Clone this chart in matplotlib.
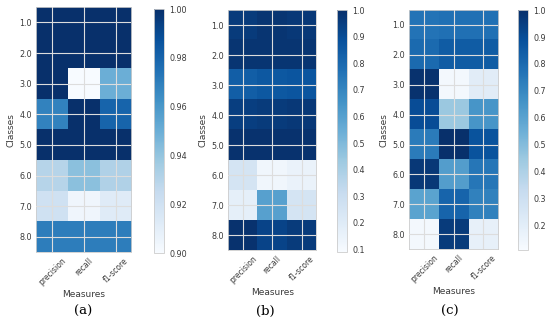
import numpy as np
import matplotlib
matplotlib.use("Agg")
import matplotlib.pyplot as plt
from matplotlib.ticker import FormatStrFormatter

# datos
measures = ["precision", "recall", "f1-score"]
classes = [1, 2, 3, 4, 5, 6, 7, 8]

scores_a = [
    [1.00, 1.00, 1.00],
    [1.00, 1.00, 1.00],
    [1.00, 0.900, 0.950],
    [0.968, 1.00, 0.980],
    [1.00, 1.00, 1.00],
    [0.930, 0.942, 0.932],
    [0.920, 0.904, 0.912],
    [0.970, 0.970, 0.970],
]
scores_b = [
    [0.96, 0.98, 0.97],
    [0.98, 0.98, 0.98],
    [0.84, 0.86, 0.87],
    [0.95, 0.96, 0.97],
    [0.99, 0.99, 0.99],
    [0.25, 0.12, 0.15],
    [0.17, 0.60, 0.25],
    [0.99, 0.93, 0.96],
]
scores_c = [
    [0.77, 0.78, 0.78],
    [0.80, 0.85, 0.85],
    [0.99, 0.13, 0.21],
    [0.90, 0.45, 0.65],
    [0.74, 1.00, 0.88],
    [0.97, 0.62, 0.76],
    [0.60, 0.82, 0.72],
    [0.13, 0.96, 0.18],
]

panels = [
    # datos, vmin, vmax, ticks cbar, formato, ejes, cbar, etiqueta, x etiqueta
    (scores_a, 0.90, 1.00, np.arange(0.90, 1.001, 0.02), "%.2f",
     [0.066, 0.222, 0.173, 0.756], [0.280, 0.219, 0.018, 0.753], "(a)", 0.151),
    (scores_b, 0.09, 1.00, np.arange(0.1, 1.001, 0.1), "%.1f",
     [0.415, 0.228, 0.160, 0.741], [0.613, 0.222, 0.017, 0.747], "(b)", 0.482),
    (scores_c, 0.11, 1.00, np.arange(0.2, 1.001, 0.1), "%.1f",
     [0.744, 0.231, 0.162, 0.738], [0.942, 0.228, 0.018, 0.741], "(c)", 0.817),
]

txt = "#3a3a3a"
fig = plt.figure(figsize=(5.5, 3.24), dpi=100)

for data, vmin, vmax, cticks, fmt, pos, cpos, lab, lx in panels:
    ax = fig.add_axes(pos)
    im = ax.imshow(np.array(data), cmap="Blues", vmin=vmin, vmax=vmax,
                   aspect="auto", interpolation="nearest",
                   extent=(-0.5, 2.5, 8.5, 0.5))
    ax.set_xticks(range(len(measures)))
    ax.set_xticklabels(measures, rotation=45, fontsize=5.5, color=txt)
    ax.set_yticks(classes)
    ax.set_yticklabels(["%.1f" % c for c in classes], fontsize=5.8, color=txt)
    ax.tick_params(length=0, pad=3)
    ax.grid(True, color="#dddddd", lw=0.8)
    ax.set_axisbelow(False)
    for s in ax.spines.values():
        s.set_color("#cccccc")
        s.set_linewidth(0.6)
    ax.set_ylabel("Classes", fontsize=6.5, color=txt, labelpad=3)
    ax.set_xlabel("Measures", fontsize=6.5, color=txt, labelpad=2)

    cax = fig.add_axes(cpos)
    cb = fig.colorbar(im, cax=cax, ticks=cticks)
    cb.ax.yaxis.set_major_formatter(FormatStrFormatter(fmt))
    cb.ax.tick_params(labelsize=5.8, labelcolor=txt, length=0, pad=4)
    cb.outline.set_edgecolor("#cccccc")
    cb.outline.set_linewidth(0.6)

    fig.text(lx, 0.04, lab, ha="center", va="center", fontsize=9.5,
             family="DejaVu Serif", color="black")

plt.savefig("out.png", dpi=100)
